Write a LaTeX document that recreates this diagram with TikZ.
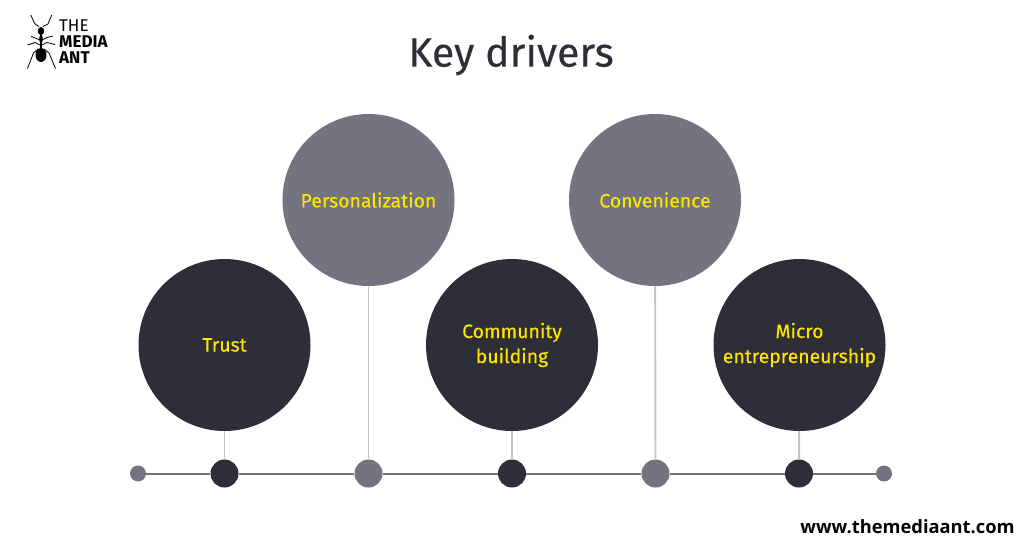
\documentclass[tikz,border=0pt]{standalone}
\usepackage{fontspec}
\setmainfont{Fira Sans}
\newfontfamily\medfont[FakeBold=0.25]{Fira Sans}
\newfontfamily\webfont{Open Sans}
\definecolor{darkdisc}{HTML}{2E2E38}
\definecolor{greydisc}{HTML}{747480}
\definecolor{stemgrey}{HTML}{C4C4CD}
\definecolor{labelyellow}{HTML}{FFE600}
\begin{document}
\begin{tikzpicture}[
    x=1pt, y=-1pt,
    driver/.style={circle, minimum size=172pt, inner sep=0pt, align=center, text=labelyellow, font=\medfont\fontsize{19.4}{25}\selectfont},
    dot/.style={circle, minimum size=28pt, inner sep=0pt},
    enddot/.style={circle, fill=greydisc, minimum size=16pt, inner sep=0pt},
    stem/.style={stemgrey, line width=1.9pt},
    leg/.style={black, line width=0.8pt},
    ]
    \useasboundingbox (0,0) rectangle (1024,546);

    % discs with their labels
    \node[driver, fill=darkdisc] (trust) at (224.5,345) {Trust};
    \node[driver, fill=greydisc] (pers) at (368.5,200) {Personalization};
    \node[driver, fill=darkdisc] (comm) at (512,345) {\raisebox{-2.5pt}{Community}\\\raisebox{-2.5pt}{building}};
    \node[driver, fill=greydisc] (conv) at (655,200) {Convenience};
    \node[driver, fill=darkdisc] (micro) at (799.5,345) {\raisebox{-2.5pt}{Micro}\\\raisebox{-2.5pt}{entrepreneurship}};

    % timeline dots
    \node[enddot] (start) at (138,473.5) {};
    \node[dot, fill=darkdisc] (d1) at (224.5,473.5) {};
    \node[dot, fill=greydisc] (d2) at (368.5,473.5) {};
    \node[dot, fill=darkdisc] (d3) at (512,473.5) {};
    \node[dot, fill=greydisc] (d4) at (655.5,473.5) {};
    \node[dot, fill=darkdisc] (d5) at (799,473.5) {};
    \node[enddot] (stop) at (884,473.5) {};

    % timeline and stems
    \draw[greydisc, line width=2pt] (start) -- (d1) -- (d2) -- (d3) -- (d4) -- (d5) -- (stop);
    \draw[stem] (trust) -- (d1);
    \draw[stem] (pers) -- (d2);
    \draw[stem] (comm) -- (d3);
    \draw[stem] (conv) -- (d4);
    \draw[stem] (micro) -- (d5);

    % texts
    \node[text=darkdisc, font=\medfont\fontsize{41}{46}\selectfont] (title) at (511,55) {Key drivers};
    \node[font=\webfont\bfseries\fontsize{18.3}{21}\selectfont, text=black] (web) at (907.5,527) {www.themediaant.com};
    \node[anchor=west, inner sep=0pt, align=left, text=black, font=\fontsize{17}{16}\selectfont] (logo) at (59,42) {THE\\\textbf{MEDIA}\\\textbf{ANT}};

    % ant
    \fill[black] (41,31) ellipse (3.2 and 4);
    \fill[black] (41,39) ellipse (1.8 and 4.5);
    \fill[black] (41,55) ellipse (5.5 and 7);
    \draw[black, line width=1.4pt] (41,30) -- (41,50);
    \draw[leg] (39,26.5) -- (35,24) -- (30.7,15);
    \draw[leg] (43,26.5) -- (48,24) -- (51.7,15);
    \draw[leg] (40,40) -- (34,37.5) -- (31,36.5);
    \draw[leg] (42,40) -- (47,37.5) -- (53,36);
    \draw[leg] (40,45) -- (35,42.5) -- (27.5,45);
    \draw[leg] (42,45) -- (47,42.5) -- (55,44.5);
    \draw[leg] (38,49) -- (33.5,53) -- (27.5,68.5);
    \draw[leg] (44,49) -- (49,53) -- (55.5,68.5);
  \end{tikzpicture}
\end{document}
